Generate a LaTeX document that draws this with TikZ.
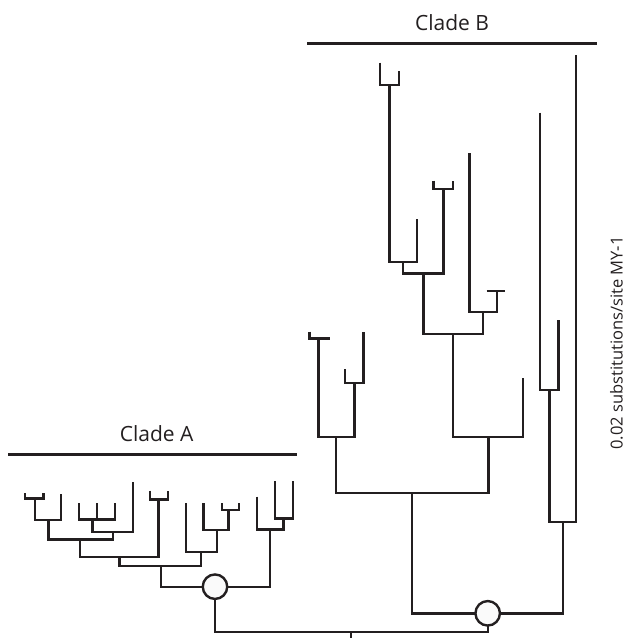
\documentclass[tikz,border=0pt]{standalone}
\usepackage{fontspec}
\setmainfont{Open Sans}
\definecolor{ink}{RGB}{35,31,32}
\definecolor{nodefill}{RGB}{250,250,250}
\begin{document}
\begin{tikzpicture}[x=1pt,y=-1pt,
  br/.style={draw=ink,line width=2.4pt,line join=miter},
  circ/.style={circle,draw=ink,fill=nodefill,line width=2.4pt,minimum size=24.5pt,inner sep=0pt},
  lab/.style={text=ink,font=\fontsize{21}{24}\selectfont,inner sep=0pt},
  scal/.style={text=ink,font=\fontsize{16.5}{19}\selectfont,inner sep=0pt}]
\useasboundingbox (0,0) rectangle (629,638);

% ---------- Clade A ----------
\draw[br] (25,493.3) |- (43.3,498.3) -- (43.3,493.3);
\draw[br] (35,498.3) |- (61,520) -- (61,494);
\draw[br] (79,503.3) |- (115,519.3) -- (115,503.3);
\draw[br] (96.7,503.3) -- (96.7,519.3);
\draw[br] (92.3,519.3) |- (132.7,532) -- (132.7,482.3);
\draw[br] (48.3,520) |- (112.7,539.3) -- (112.7,532);
\draw[br] (150,490.7) |- (167.7,499.3) -- (167.7,490.7);
\draw[br] (80,539.3) |- (158.3,556.7) -- (158.3,499.3);
\draw[br] (221.7,503.3) |- (239,510) -- (239,503.3);
\draw[br] (203.3,503.3) |- (228.3,530) -- (228.3,510);
\draw[br] (185.7,503.3) |- (216.7,551.7) -- (216.7,530);
\draw[br] (119.3,556.7) |- (201,566) -- (201,551.7);
\draw[br] (275,481) |- (292.7,518.3) -- (292.7,481);
\draw[br] (256.7,496.7) |- (283.3,529.3) -- (283.3,518.3);
\draw[br] (161,566) |- (270,586.7) -- (270,529.3);

% ---------- Clade B ----------
\draw[br] (380,62.7) |- (399,85) -- (399,70.7);
\draw[br] (389.3,85) |- (416.7,261.7) -- (416.7,219.3);
\draw[br] (433.3,180.7) |- (452.7,189) -- (452.7,180.7);
\draw[br] (402.7,261.7) |- (443.3,273.3) -- (443.3,189);
\draw[br] (486.7,290.7) -- (505,290.7);
\draw[br] (469.3,153.3) |- (496.7,311.7) -- (496.7,290.7);
\draw[br] (423.3,273.3) |- (482.7,334) -- (482.7,311.7);
\draw[br] (452.7,334) |- (522.7,436.7) -- (522.7,378.3);
\draw[br] (309.3,331.7) |- (328.3,338.3) -- (328.3,340);
\draw[br] (345,369) |- (363.3,382.7) -- (363.3,332.3);
\draw[br] (318.3,338.3) |- (354.3,436.7) -- (354.3,382.7);
\draw[br] (336,436.7) |- (488.3,492.7) -- (488.3,436.7);
\draw[br] (540,112.7) |- (558.3,390) -- (558.3,320);
\draw[br] (549.3,390) |- (575.7,521.7) -- (575.7,55);
\draw[br] (411.7,492.7) |- (562.7,613.3) -- (562.7,521.7);

% ---------- root ----------
\draw[br] (215,586.7) |- (487.7,631.7) -- (487.7,613.3);
\draw[br] (351,631.7) -- (351,640);

% ---------- node circles ----------
\node[circ] (cA) at (215,586.7) {};
\node[circ] (cB) at (487.7,613.3) {};

% ---------- clade labels ----------
\draw[br] (8.3,454.3) -- (296.7,454.3);
\draw[br] (307.3,43.3) -- (596.7,43.3);
\node[lab,anchor=base] (la) at (156.7,441.7) {Clade A};
\node[lab,anchor=base] (lb) at (452,30) {Clade B};

% ---------- scale text ----------
\node[scal,rotate=90,anchor=base] (sc) at (622.5,343) {0.02 substitutions/site MY-1};
\end{tikzpicture}
\end{document}
